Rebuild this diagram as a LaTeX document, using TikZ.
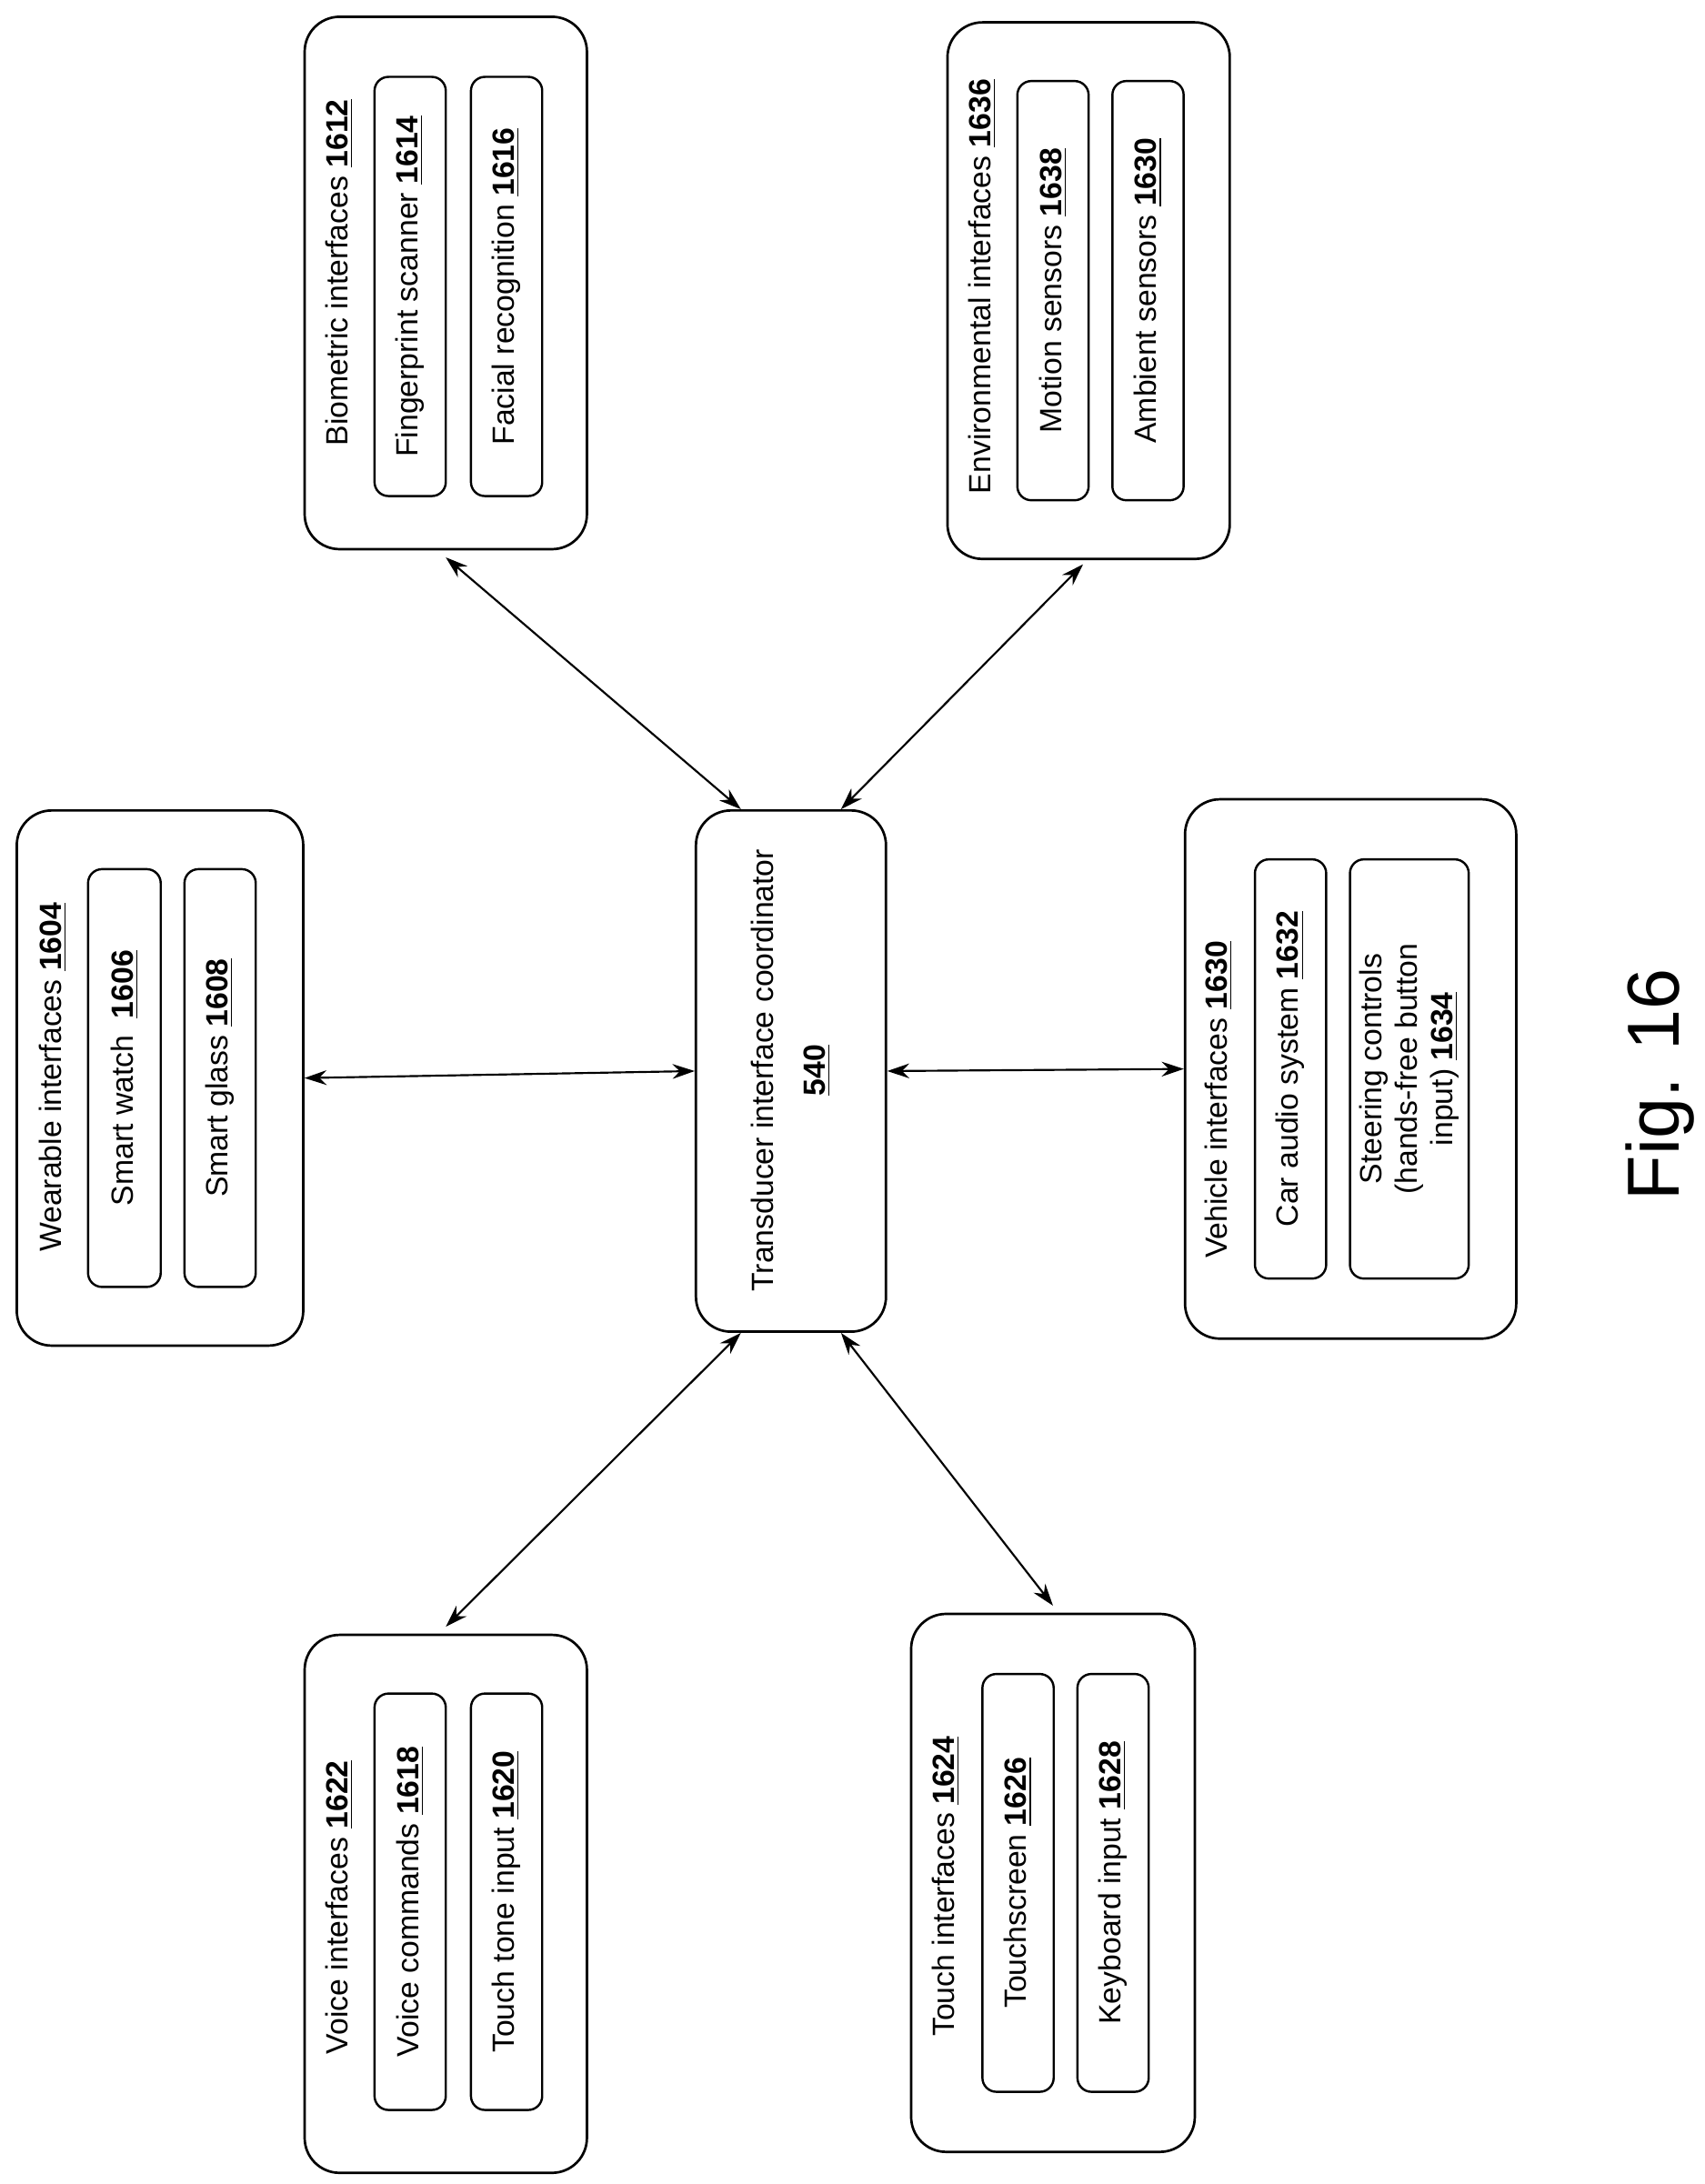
\documentclass[tikz,border=0pt]{standalone}
\usepackage{fontspec}
\setmainfont{Liberation Sans}
\usetikzlibrary{arrows.meta,calc}
\newcommand\nm[1]{\underline{\textbf{#1}}}
\newcommand\bx[6]{\node[#6,minimum width={(#4-#2)*0.02cm},minimum height={(#5-#3)*0.02cm}] (#1) at ({(#2+#4)/2},{(#3+#5)/2}) {};}
\tikzset{
 outer/.style={draw,line width=1pt,rounded corners=0.5cm,inner sep=0pt},
 inner/.style={draw,line width=0.9pt,rounded corners=0.2cm,inner sep=0pt},
 txt/.style={rotate=90,font=\fontsize{12.5}{15}\selectfont,align=center,inner sep=0pt},
 link/.style={{Stealth[length=9pt,width=6pt]}-{Stealth[length=9pt,width=6pt]},line width=0.8pt}
}
\begin{document}
\begin{tikzpicture}[x=0.02cm,y=-0.02cm]
\useasboundingbox (0,0) rectangle (1220,1563);
% Wearable
\bx{wear}{12}{580}{217}{963}{outer}
\bx{sw}{63}{622}{115}{921}{inner}
\bx{sg}{132}{622}{183}{921}{inner}
\node[txt] (wearl) at (38,771) {Wearable interfaces \nm{1604}};
\node[txt] (swl) at (sw) {Smart watch\ \ \nm{1606}};
\node[txt] (sgl) at (sg) {Smart glass \nm{1608}};
% Biometric
\bx{bio}{218}{12}{420}{393}{outer}
\bx{fp}{268}{55}{319}{355}{inner}
\bx{fr}{337}{55}{388}{355}{inner}
\node[txt] (biol) at (243,195) {Biometric interfaces \nm{1612}};
\node[txt] (fpl) at (fp) {Fingerprint scanner \nm{1614}};
\node[txt] (frl) at (fr) {Facial recognition \nm{1616}};
% Environmental
\bx{env}{678}{16}{880}{400}{outer}
\bx{ms}{728}{58}{779}{358}{inner}
\bx{as}{796}{58}{847}{358}{inner}
\node[txt] (envl) at (703,205) {Environmental interfaces \nm{1636}};
\node[txt] (msl) at (ms) {Motion sensors \nm{1638}};
\node[txt] (asl) at (as) {Ambient sensors \nm{1630}};
% Center
\bx{ctr}{498}{580}{634}{953}{outer}
\node[txt] (ctrl) at (566,766) {Transducer interface coordinator\\[6pt]\nm{540}};
% Vehicle
\bx{veh}{848}{572}{1085}{958}{outer}
\bx{car}{898}{615}{949}{915}{inner}
\bx{st}{966}{615}{1051}{915}{inner}
\node[txt] (vehl) at (872,787) {Vehicle interfaces \nm{1630}};
\node[txt] (carl) at (car) {Car audio system \nm{1632}};
\node[txt,font=\fontsize{12.5}{14.5}\selectfont] (stl) at (st) {Steering controls\\(hands-free button\\input) \nm{1634}};
% Voice
\bx{voi}{218}{1170}{420}{1555}{outer}
\bx{vc}{268}{1212}{319}{1510}{inner}
\bx{tt}{337}{1212}{388}{1510}{inner}
\node[txt] (voil) at (243,1365) {Voice interfaces \nm{1622}};
\node[txt] (vcl) at (vc) {Voice commands \nm{1618}};
\node[txt] (ttl) at (tt) {Touch tone input \nm{1620}};
% Touch
\bx{tou}{652}{1155}{855}{1540}{outer}
\bx{ts}{703}{1198}{754}{1497}{inner}
\bx{kb}{771}{1198}{822}{1497}{inner}
\node[txt] (toul) at (677,1350) {Touch interfaces \nm{1624}};
\node[txt] (tsl) at (ts) {Touchscreen \nm{1626}};
\node[txt] (kbl) at (kb) {Keyboard input \nm{1628}};
% Fig
\node[rotate=90,font=\fontsize{30}{36}\selectfont,inner sep=0pt] (fig) at (1188,776) {Fig. 16};
% Links
\draw[link] (wear.east) -- (ctr.west);
\draw[link] (ctr.east) -- (veh.west);
\draw[link] ([yshift=-0.1cm]bio.south) -- ($(ctr.north west)!0.24!(ctr.north east)$);
\draw[link] ([yshift=-0.06cm,xshift=-0.08cm]env.south) -- ($(ctr.north west)!0.76!(ctr.north east)$);
\draw[link] ([yshift=0.1cm]voi.north) -- ($(ctr.south west)!0.24!(ctr.south east)$);
\draw[link] ([yshift=0.1cm]tou.north) -- ($(ctr.south west)!0.76!(ctr.south east)$);
\end{tikzpicture}
\end{document}
